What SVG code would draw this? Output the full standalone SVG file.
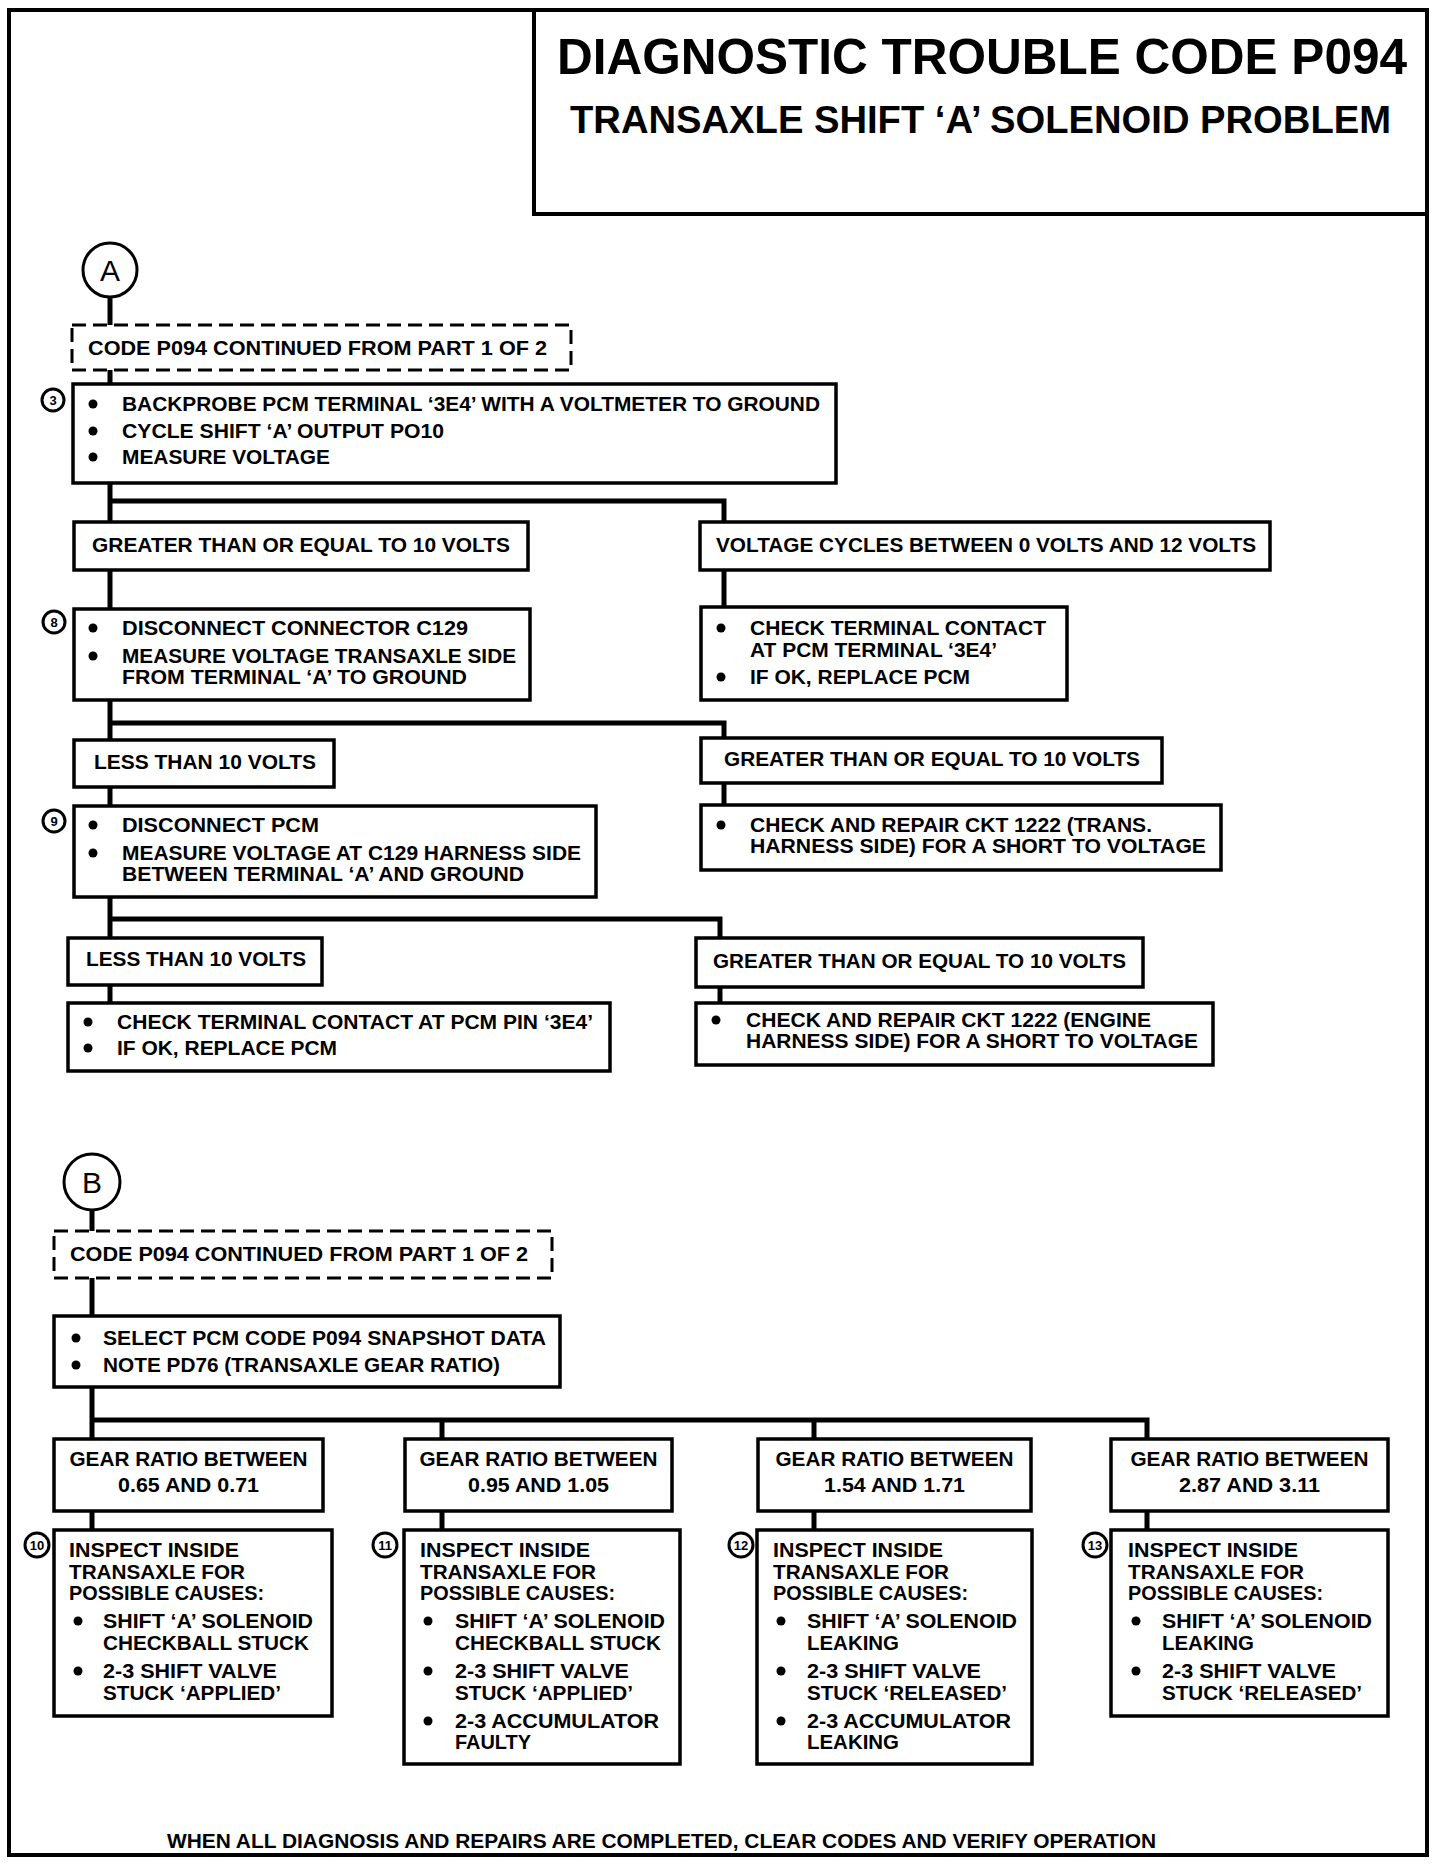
<svg xmlns="http://www.w3.org/2000/svg" width="1440" height="1864" viewBox="0 0 1440 1864">
<style>
.bx{fill:#fff;stroke:#000;stroke-width:3.5}
.ds{fill:#fff;stroke:#000;stroke-width:3;stroke-dasharray:14 7}
.cn{fill:none;stroke:#000;stroke-width:5}
.t{font-family:"Liberation Sans",Arial,sans-serif;font-weight:bold;font-size:21px;fill:#000}
.tc{font-family:"Liberation Sans",Arial,sans-serif;font-weight:bold;font-size:21px;fill:#000;text-anchor:middle}
.h1{font-family:"Liberation Sans",Arial,sans-serif;font-weight:bold;font-size:50px;fill:#000}
.h2{font-family:"Liberation Sans",Arial,sans-serif;font-weight:bold;font-size:38px;fill:#000}
.lc{fill:#fff;stroke:#000;stroke-width:3}
.lt{font-family:"Liberation Sans",Arial,sans-serif;font-size:30px;fill:#000;text-anchor:middle}
.nc{fill:#fff;stroke:#000;stroke-width:3}
.nt{font-family:"Liberation Sans",Arial,sans-serif;font-weight:bold;font-size:13px;fill:#000;text-anchor:middle}
.bl{fill:#000}
</style>
<rect x="0" y="0" width="1440" height="1864" fill="#fff"/>
<rect id="frame" x="9" y="10" width="1418" height="1845" fill="none" stroke="#000" stroke-width="4"/>
<g id="title">
<rect x="534" y="10" width="893" height="204" fill="none" stroke="#000" stroke-width="4"/>
<text class="h1" x="557" y="74" textLength="850" lengthAdjust="spacingAndGlyphs">DIAGNOSTIC TROUBLE CODE P094</text>
<text class="h2" x="570" y="133" textLength="821" lengthAdjust="spacingAndGlyphs">TRANSAXLE SHIFT ‘A’ SOLENOID PROBLEM</text>
</g>
<g id="connectors">
<path class="cn" d="M110 297V325M110 370V384M110 483V522M110 501H724V522M110 570V609M724 570V607M110 700V740M110 723H724V738M110 787V806M724 783V805M110 897V938M110 919H720V938M110 985V1003M720 987V1003"/>
<path class="cn" d="M92 1210V1231M92 1278V1316M92 1387V1439M92 1420H1147V1439M442 1420V1439M814 1420V1439M92 1511V1530M442 1511V1530M814 1511V1530M1147 1511V1530"/>
</g>
<g id="connA">
<circle class="lc" cx="110" cy="270" r="27"/>
<text class="lt" x="110" y="281">A</text>
</g>
<g id="contA">
<rect class="ds" x="72" y="325" width="499" height="45"/>
<text class="t" x="88" y="355" textLength="459" lengthAdjust="spacingAndGlyphs">CODE P094 CONTINUED FROM PART 1 OF 2</text>
</g>
<g id="step3">
<rect class="bx" x="73" y="384" width="763" height="99"/>
<circle class="nc" cx="53" cy="400" r="11"/><text class="nt" x="53" y="405">3</text>
<circle class="bl" cx="93" cy="404" r="4.5"/><circle class="bl" cx="93" cy="431" r="4.5"/><circle class="bl" cx="93" cy="457" r="4.5"/>
<text class="t" x="122" y="411" textLength="698" lengthAdjust="spacingAndGlyphs">BACKPROBE PCM TERMINAL ‘3E4’ WITH A VOLTMETER TO GROUND</text>
<text class="t" x="122" y="438" textLength="322" lengthAdjust="spacingAndGlyphs">CYCLE SHIFT ‘A’ OUTPUT PO10</text>
<text class="t" x="122" y="464" textLength="208" lengthAdjust="spacingAndGlyphs">MEASURE VOLTAGE</text>
</g>
<g id="ge10a">
<rect class="bx" x="74" y="522" width="454" height="48"/>
<text class="t" x="92" y="552" textLength="418" lengthAdjust="spacingAndGlyphs">GREATER THAN OR EQUAL TO 10 VOLTS</text>
</g>
<g id="cycles">
<rect class="bx" x="700" y="522" width="570" height="48"/>
<text class="t" x="716" y="552" textLength="540" lengthAdjust="spacingAndGlyphs">VOLTAGE CYCLES BETWEEN 0 VOLTS AND 12 VOLTS</text>
</g>
<g id="step8">
<rect class="bx" x="74" y="609" width="456" height="91"/>
<circle class="nc" cx="54" cy="622" r="11"/><text class="nt" x="54" y="627">8</text>
<circle class="bl" cx="93" cy="628" r="4.5"/><circle class="bl" cx="93" cy="656" r="4.5"/>
<text class="t" x="122" y="635" textLength="346" lengthAdjust="spacingAndGlyphs">DISCONNECT CONNECTOR C129</text>
<text class="t" x="122" y="663" textLength="394" lengthAdjust="spacingAndGlyphs">MEASURE VOLTAGE TRANSAXLE SIDE</text>
<text class="t" x="122" y="684" textLength="345" lengthAdjust="spacingAndGlyphs">FROM TERMINAL ‘A’ TO GROUND</text>
</g>
<g id="checkPcm1">
<rect class="bx" x="701" y="607" width="366" height="93"/>
<circle class="bl" cx="721" cy="628" r="4.5"/><circle class="bl" cx="721" cy="677" r="4.5"/>
<text class="t" x="750" y="635" textLength="296" lengthAdjust="spacingAndGlyphs">CHECK TERMINAL CONTACT</text>
<text class="t" x="750" y="657" textLength="247" lengthAdjust="spacingAndGlyphs">AT PCM TERMINAL ‘3E4’</text>
<text class="t" x="750" y="684" textLength="220" lengthAdjust="spacingAndGlyphs">IF OK, REPLACE PCM</text>
</g>
<g id="lt10a">
<rect class="bx" x="74" y="740" width="260" height="47"/>
<text class="t" x="94" y="769" textLength="222" lengthAdjust="spacingAndGlyphs">LESS THAN 10 VOLTS</text>
</g>
<g id="ge10b">
<rect class="bx" x="701" y="738" width="461" height="45"/>
<text class="t" x="724" y="766" textLength="416" lengthAdjust="spacingAndGlyphs">GREATER THAN OR EQUAL TO 10 VOLTS</text>
</g>
<g id="step9">
<rect class="bx" x="74" y="806" width="522" height="91"/>
<circle class="nc" cx="54" cy="821" r="11"/><text class="nt" x="54" y="826">9</text>
<circle class="bl" cx="93" cy="825" r="4.5"/><circle class="bl" cx="93" cy="853" r="4.5"/>
<text class="t" x="122" y="832" textLength="197" lengthAdjust="spacingAndGlyphs">DISCONNECT PCM</text>
<text class="t" x="122" y="860" textLength="459" lengthAdjust="spacingAndGlyphs">MEASURE VOLTAGE AT C129 HARNESS SIDE</text>
<text class="t" x="122" y="881" textLength="402" lengthAdjust="spacingAndGlyphs">BETWEEN TERMINAL ‘A’ AND GROUND</text>
</g>
<g id="repairTrans">
<rect class="bx" x="701" y="805" width="520" height="65"/>
<circle class="bl" cx="721" cy="825" r="4.5"/>
<text class="t" x="750" y="832" textLength="402" lengthAdjust="spacingAndGlyphs">CHECK AND REPAIR CKT 1222 (TRANS.</text>
<text class="t" x="750" y="853" textLength="456" lengthAdjust="spacingAndGlyphs">HARNESS SIDE) FOR A SHORT TO VOLTAGE</text>
</g>
<g id="lt10b">
<rect class="bx" x="68" y="938" width="254" height="47"/>
<text class="t" x="86" y="966" textLength="220" lengthAdjust="spacingAndGlyphs">LESS THAN 10 VOLTS</text>
</g>
<g id="ge10c">
<rect class="bx" x="696" y="938" width="447" height="49"/>
<text class="t" x="713" y="968" textLength="413" lengthAdjust="spacingAndGlyphs">GREATER THAN OR EQUAL TO 10 VOLTS</text>
</g>
<g id="checkPcm2">
<rect class="bx" x="68" y="1003" width="542" height="68"/>
<circle class="bl" cx="88" cy="1022" r="4.5"/><circle class="bl" cx="88" cy="1048" r="4.5"/>
<text class="t" x="117" y="1029" textLength="476" lengthAdjust="spacingAndGlyphs">CHECK TERMINAL CONTACT AT PCM PIN ‘3E4’</text>
<text class="t" x="117" y="1055" textLength="220" lengthAdjust="spacingAndGlyphs">IF OK, REPLACE PCM</text>
</g>
<g id="repairEngine">
<rect class="bx" x="696" y="1003" width="517" height="62"/>
<circle class="bl" cx="716" cy="1020" r="4.5"/>
<text class="t" x="746" y="1027" textLength="405" lengthAdjust="spacingAndGlyphs">CHECK AND REPAIR CKT 1222 (ENGINE</text>
<text class="t" x="746" y="1048" textLength="452" lengthAdjust="spacingAndGlyphs">HARNESS SIDE) FOR A SHORT TO VOLTAGE</text>
</g>
<g id="connB">
<circle class="lc" cx="92" cy="1182" r="28"/>
<text class="lt" x="92" y="1193">B</text>
</g>
<g id="contB">
<rect class="ds" x="54" y="1231" width="498" height="47"/>
<text class="t" x="70" y="1261" textLength="458" lengthAdjust="spacingAndGlyphs">CODE P094 CONTINUED FROM PART 1 OF 2</text>
</g>
<g id="snapshot">
<rect class="bx" x="54" y="1316" width="506" height="71"/>
<circle class="bl" cx="76" cy="1338" r="4.5"/><circle class="bl" cx="76" cy="1365" r="4.5"/>
<text class="t" x="103" y="1345" textLength="443" lengthAdjust="spacingAndGlyphs">SELECT PCM CODE P094 SNAPSHOT DATA</text>
<text class="t" x="103" y="1372" textLength="397" lengthAdjust="spacingAndGlyphs">NOTE PD76 (TRANSAXLE GEAR RATIO)</text>
</g>
<g id="gear1">
<rect class="bx" x="54" y="1439" width="269" height="72"/>
<text class="tc" x="188.5" y="1466" textLength="238" lengthAdjust="spacingAndGlyphs">GEAR RATIO BETWEEN</text>
<text class="tc" x="188.5" y="1492" textLength="141" lengthAdjust="spacingAndGlyphs">0.65 AND 0.71</text>
</g>
<g id="gear2">
<rect class="bx" x="405" y="1439" width="267" height="72"/>
<text class="tc" x="538.5" y="1466" textLength="238" lengthAdjust="spacingAndGlyphs">GEAR RATIO BETWEEN</text>
<text class="tc" x="538.5" y="1492" textLength="141" lengthAdjust="spacingAndGlyphs">0.95 AND 1.05</text>
</g>
<g id="gear3">
<rect class="bx" x="758" y="1439" width="273" height="72"/>
<text class="tc" x="894.5" y="1466" textLength="238" lengthAdjust="spacingAndGlyphs">GEAR RATIO BETWEEN</text>
<text class="tc" x="894.5" y="1492" textLength="141" lengthAdjust="spacingAndGlyphs">1.54 AND 1.71</text>
</g>
<g id="gear4">
<rect class="bx" x="1111" y="1439" width="277" height="72"/>
<text class="tc" x="1249.5" y="1466" textLength="238" lengthAdjust="spacingAndGlyphs">GEAR RATIO BETWEEN</text>
<text class="tc" x="1249.5" y="1492" textLength="141" lengthAdjust="spacingAndGlyphs">2.87 AND 3.11</text>
</g>
<g id="step10">
<rect class="bx" x="54" y="1530" width="278" height="186"/>
<circle class="nc" cx="37" cy="1545" r="12"/><text class="nt" x="37" y="1550">10</text>
<text class="t" x="69" y="1557" textLength="170" lengthAdjust="spacingAndGlyphs">INSPECT INSIDE</text>
<text class="t" x="69" y="1579" textLength="176" lengthAdjust="spacingAndGlyphs">TRANSAXLE FOR</text>
<text class="t" x="69" y="1600" textLength="195" lengthAdjust="spacingAndGlyphs">POSSIBLE CAUSES:</text>
<circle class="bl" cx="78" cy="1621" r="4.5"/><circle class="bl" cx="78" cy="1671" r="4.5"/>
<text class="t" x="103" y="1628" textLength="210" lengthAdjust="spacingAndGlyphs">SHIFT ‘A’ SOLENOID</text>
<text class="t" x="103" y="1650" textLength="206" lengthAdjust="spacingAndGlyphs">CHECKBALL STUCK</text>
<text class="t" x="103" y="1678" textLength="174" lengthAdjust="spacingAndGlyphs">2-3 SHIFT VALVE</text>
<text class="t" x="103" y="1700" textLength="178" lengthAdjust="spacingAndGlyphs">STUCK ‘APPLIED’</text>
</g>
<g id="step11">
<rect class="bx" x="404" y="1530" width="276" height="234"/>
<circle class="nc" cx="385" cy="1545" r="12"/><text class="nt" x="385" y="1550">11</text>
<text class="t" x="420" y="1557" textLength="170" lengthAdjust="spacingAndGlyphs">INSPECT INSIDE</text>
<text class="t" x="420" y="1579" textLength="176" lengthAdjust="spacingAndGlyphs">TRANSAXLE FOR</text>
<text class="t" x="420" y="1600" textLength="195" lengthAdjust="spacingAndGlyphs">POSSIBLE CAUSES:</text>
<circle class="bl" cx="428" cy="1621" r="4.5"/><circle class="bl" cx="428" cy="1671" r="4.5"/><circle class="bl" cx="428" cy="1721" r="4.5"/>
<text class="t" x="455" y="1628" textLength="210" lengthAdjust="spacingAndGlyphs">SHIFT ‘A’ SOLENOID</text>
<text class="t" x="455" y="1650" textLength="206" lengthAdjust="spacingAndGlyphs">CHECKBALL STUCK</text>
<text class="t" x="455" y="1678" textLength="174" lengthAdjust="spacingAndGlyphs">2-3 SHIFT VALVE</text>
<text class="t" x="455" y="1700" textLength="178" lengthAdjust="spacingAndGlyphs">STUCK ‘APPLIED’</text>
<text class="t" x="455" y="1728" textLength="204" lengthAdjust="spacingAndGlyphs">2-3 ACCUMULATOR</text>
<text class="t" x="455" y="1749" textLength="76" lengthAdjust="spacingAndGlyphs">FAULTY</text>
</g>
<g id="step12">
<rect class="bx" x="757" y="1530" width="275" height="234"/>
<circle class="nc" cx="741" cy="1545" r="12"/><text class="nt" x="741" y="1550">12</text>
<text class="t" x="773" y="1557" textLength="170" lengthAdjust="spacingAndGlyphs">INSPECT INSIDE</text>
<text class="t" x="773" y="1579" textLength="176" lengthAdjust="spacingAndGlyphs">TRANSAXLE FOR</text>
<text class="t" x="773" y="1600" textLength="195" lengthAdjust="spacingAndGlyphs">POSSIBLE CAUSES:</text>
<circle class="bl" cx="781" cy="1621" r="4.5"/><circle class="bl" cx="781" cy="1671" r="4.5"/><circle class="bl" cx="781" cy="1721" r="4.5"/>
<text class="t" x="807" y="1628" textLength="210" lengthAdjust="spacingAndGlyphs">SHIFT ‘A’ SOLENOID</text>
<text class="t" x="807" y="1650" textLength="92" lengthAdjust="spacingAndGlyphs">LEAKING</text>
<text class="t" x="807" y="1678" textLength="174" lengthAdjust="spacingAndGlyphs">2-3 SHIFT VALVE</text>
<text class="t" x="807" y="1700" textLength="200" lengthAdjust="spacingAndGlyphs">STUCK ‘RELEASED’</text>
<text class="t" x="807" y="1728" textLength="204" lengthAdjust="spacingAndGlyphs">2-3 ACCUMULATOR</text>
<text class="t" x="807" y="1749" textLength="92" lengthAdjust="spacingAndGlyphs">LEAKING</text>
</g>
<g id="step13">
<rect class="bx" x="1111" y="1530" width="277" height="186"/>
<circle class="nc" cx="1095" cy="1545" r="12"/><text class="nt" x="1095" y="1550">13</text>
<text class="t" x="1128" y="1557" textLength="170" lengthAdjust="spacingAndGlyphs">INSPECT INSIDE</text>
<text class="t" x="1128" y="1579" textLength="176" lengthAdjust="spacingAndGlyphs">TRANSAXLE FOR</text>
<text class="t" x="1128" y="1600" textLength="195" lengthAdjust="spacingAndGlyphs">POSSIBLE CAUSES:</text>
<circle class="bl" cx="1136" cy="1621" r="4.5"/><circle class="bl" cx="1136" cy="1671" r="4.5"/>
<text class="t" x="1162" y="1628" textLength="210" lengthAdjust="spacingAndGlyphs">SHIFT ‘A’ SOLENOID</text>
<text class="t" x="1162" y="1650" textLength="92" lengthAdjust="spacingAndGlyphs">LEAKING</text>
<text class="t" x="1162" y="1678" textLength="174" lengthAdjust="spacingAndGlyphs">2-3 SHIFT VALVE</text>
<text class="t" x="1162" y="1700" textLength="200" lengthAdjust="spacingAndGlyphs">STUCK ‘RELEASED’</text>
</g>
<g id="footer">
<text class="t" x="167" y="1848" textLength="989" lengthAdjust="spacingAndGlyphs" style="font-size:20px">WHEN ALL DIAGNOSIS AND REPAIRS ARE COMPLETED, CLEAR CODES AND VERIFY OPERATION</text>
</g>
</svg>
